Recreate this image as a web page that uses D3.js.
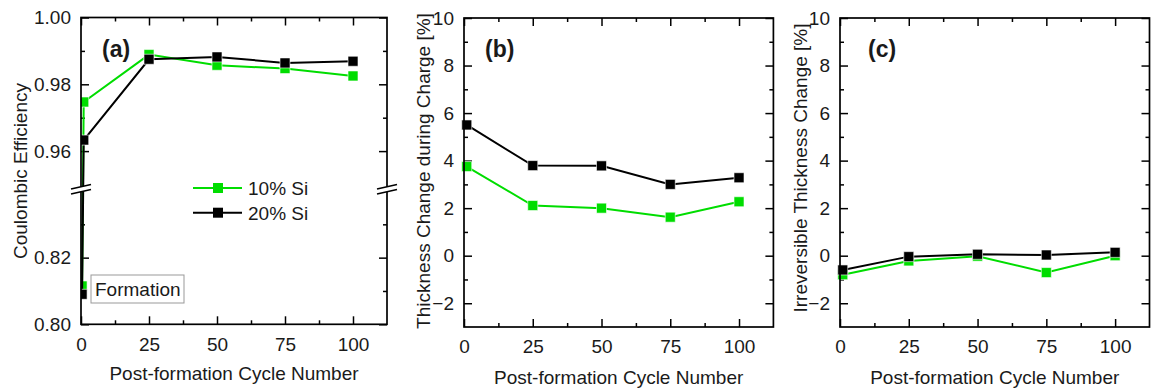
<!DOCTYPE html>
<html>
<head>
<meta charset="utf-8">
<script src="https://cdn.jsdelivr.net/npm/d3@7"></script>
<style>
  body { margin: 0; background: #fff; }
  svg { display: block; font-family: "Liberation Sans", Arial, sans-serif; }
</style>
</head>
<body>
<div id="chart"></div>
<script>
// ---- data ----
const cycles = [1, 25, 50, 75, 100];
const formationCycle = 0.4;
const seriesNames = ['10% Si', '20% Si'];
const seriesColors = ['#00dd00', '#000000'];

// (a) coulombic efficiency, formation point + post-formation cycles
const ceFormation = [0.8115, 0.809];
const ce10 = [0.9747, 0.9889, 0.9857, 0.9847, 0.9825];
const ce20 = [0.9633, 0.9875, 0.9882, 0.9864, 0.9869];

// (b) thickness change during charge [%]
const thick10 = [3.75, 2.11, 2.0, 1.62, 2.27];
const thick20 = [5.5, 3.79, 3.78, 3.0, 3.28];

// (c) irreversible thickness change [%]
const irr10 = [-0.8, -0.22, -0.02, -0.71, 0.0];
const irr20 = [-0.6, -0.04, 0.06, 0.03, 0.14];

// ticks
const xTicks = [0, 25, 50, 75, 100];
const xMinor = [12.5, 37.5, 62.5, 87.5];
const ceUpperTicks = [0.96, 0.98, 1.00];
const ceUpperMinor = [0.97, 0.99];
const ceLowerTicks = [0.80, 0.82];
const ceLowerMinor = [0.81, 0.83];
const pctTicks = [-2, 0, 2, 4, 6, 8, 10];
const pctMinor = [-1, 1, 3, 5, 7, 9];

// ---- canvas ----
const width = 1151;
const height = 392;
const fontSize = 19;
const textColor = '#1a1a1a';

const svg = d3.select('#chart').append('svg')
  .attr('width', width)
  .attr('height', height);

const noDomain = (g) => g.select('.domain').remove();

const styleAxis = (g) => {
  g.call(noDomain);
  g.selectAll('line').attr('stroke', '#000').attr('stroke-width', 1.5);
  g.selectAll('text').attr('font-size', fontSize).attr('fill', textColor)
    .attr('font-family', '"Liberation Sans", Arial, sans-serif');
};

const marker = d3.symbol().type(d3.symbolSquare).size(100);

// x axes (top + bottom, ticks inward)
function drawXAxes(g, x, top, bottom) {
  g.append('g').attr('transform', `translate(0, ${bottom})`)
    .call(d3.axisBottom(x).tickValues(xTicks).tickSizeInner(-8).tickSizeOuter(0)
      .tickPadding(13).tickFormat(d3.format('d')))
    .call(styleAxis);
  g.append('g').attr('transform', `translate(0, ${bottom})`)
    .call(d3.axisBottom(x).tickValues(xMinor).tickSizeInner(-4).tickSizeOuter(0).tickFormat(''))
    .call(styleAxis);
  g.append('g').attr('transform', `translate(0, ${top})`)
    .call(d3.axisTop(x).tickValues(xTicks).tickSizeInner(-8).tickSizeOuter(0).tickFormat(''))
    .call(styleAxis);
  g.append('g').attr('transform', `translate(0, ${top})`)
    .call(d3.axisTop(x).tickValues(xMinor).tickSizeInner(-4).tickSizeOuter(0).tickFormat(''))
    .call(styleAxis);
}

// y axes (left with labels, right without), ticks inward
function drawYAxes(g, y, left, right, ticks, minor, fmt) {
  g.append('g').attr('transform', `translate(${left}, 0)`)
    .call(d3.axisLeft(y).tickValues(ticks).tickSizeInner(-8).tickSizeOuter(0)
      .tickPadding(10).tickFormat(fmt))
    .call(styleAxis);
  g.append('g').attr('transform', `translate(${left}, 0)`)
    .call(d3.axisLeft(y).tickValues(minor).tickSizeInner(-4).tickSizeOuter(0).tickFormat(''))
    .call(styleAxis);
  g.append('g').attr('transform', `translate(${right}, 0)`)
    .call(d3.axisRight(y).tickValues(ticks).tickSizeInner(-8).tickSizeOuter(0).tickFormat(''))
    .call(styleAxis);
  g.append('g').attr('transform', `translate(${right}, 0)`)
    .call(d3.axisRight(y).tickValues(minor).tickSizeInner(-4).tickSizeOuter(0).tickFormat(''))
    .call(styleAxis);
}

function drawFrame(g, left, right, top, bottom) {
  g.append('rect')
    .attr('x', left).attr('y', top)
    .attr('width', right - left).attr('height', bottom - top)
    .attr('fill', 'none').attr('stroke', '#000').attr('stroke-width', 1.7);
}

function drawSeries(g, data, x, y, color) {
  const line = d3.line().x((d) => x(d.c)).y((d) => y(d.v));
  g.append('path').datum(data)
    .attr('d', line)
    .attr('fill', 'none')
    .attr('stroke', color)
    .attr('stroke-width', 2);
  g.selectAll(null).data(data).enter()
    .append('path')
    .attr('d', marker)
    .attr('transform', (d) => `translate(${x(d.c)}, ${y(d.v)})`)
    .attr('fill', color)
    .attr('stroke', '#fff')
    .attr('stroke-width', 0.6);
}

function yTitle(text, cx, cy) {
  svg.append('text')
    .attr('transform', `translate(${cx}, ${cy}) rotate(-90)`)
    .attr('text-anchor', 'middle')
    .attr('dy', '0.35em')
    .attr('font-size', fontSize)
    .attr('fill', textColor)
    .text(text);
}

function xTitle(cx, baseline) {
  svg.append('text')
    .attr('x', cx).attr('y', baseline)
    .attr('text-anchor', 'middle')
    .attr('font-size', fontSize)
    .attr('fill', textColor)
    .text('Post-formation Cycle Number');
}

function panelLabel(text, x0, baseline) {
  svg.append('text')
    .attr('x', x0).attr('y', baseline)
    .attr('font-size', 23)
    .attr('font-weight', 'bold')
    .attr('fill', textColor)
    .text(text);
}

const toPoints = (vals) => cycles.map((c, i) => ({ c, v: vals[i] }));

// ---- panel (a): broken y axis ----
{
  const left = 81; const right = 387; const top = 17.5; const bottom = 324.3;
  const x = d3.scaleLinear().domain([0, 112.5]).range([left, right]);
  const yUpper = d3.scaleLinear().domain([0.95, 1.00]).range([184.5, top]);
  const yLower = d3.scaleLinear().domain([0.80, 0.84]).range([bottom, 191]);
  const y = (v) => (v >= 0.9 ? yUpper(v) : yLower(v));
  const breakY = 188;

  const g = svg.append('g');
  svg.append('clipPath').attr('id', 'clipA')
    .append('rect').attr('x', left).attr('y', top)
    .attr('width', right - left).attr('height', bottom - top);

  drawXAxes(g, x, top, bottom);
  const fmt = d3.format('.2f');
  drawYAxes(g, yUpper, left, right, ceUpperTicks, ceUpperMinor, fmt);
  drawYAxes(g, yLower, left, right, ceLowerTicks, ceLowerMinor, fmt);

  const data = g.append('g').attr('clip-path', 'url(#clipA)');
  [ce10, ce20].forEach((vals, i) => {
    const pts = [{ c: formationCycle, v: ceFormation[i] }].concat(toPoints(vals));
    drawSeries(data, pts, x, y, seriesColors[i]);
  });
  drawFrame(g, left, right, top, bottom);

  // axis break marks
  [left, right].forEach((bx) => {
    g.append('path')
      .attr('d', `M${bx - 10},${breakY + 1} L${bx + 10},${breakY - 3.5} L${bx + 10},${breakY + 1.5} L${bx - 10},${breakY + 6} Z`)
      .attr('fill', '#fff');
    [0, 5].forEach((off) => {
      g.append('line')
        .attr('x1', bx - 10).attr('y1', breakY + 1 + off)
        .attr('x2', bx + 10).attr('y2', breakY - 3.5 + off)
        .attr('stroke', '#000').attr('stroke-width', 1.5);
    });
  });

  // legend
  const legendRows = [188, 212.7];
  seriesNames.forEach((name, i) => {
    const ly = legendRows[i];
    g.append('line')
      .attr('x1', 193).attr('x2', 242).attr('y1', ly).attr('y2', ly)
      .attr('stroke', seriesColors[i]).attr('stroke-width', 2);
    g.append('path').attr('d', marker)
      .attr('transform', `translate(218, ${ly})`)
      .attr('fill', seriesColors[i]);
    g.append('text')
      .attr('x', 248).attr('y', ly + 7)
      .attr('font-size', fontSize).attr('fill', textColor)
      .text(name);
  });

  // formation annotation
  g.append('rect')
    .attr('x', 91).attr('y', 275).attr('width', 93).attr('height', 28)
    .attr('fill', '#fff').attr('stroke', '#999').attr('stroke-width', 1);
  g.append('text')
    .attr('x', 95).attr('y', 296)
    .attr('font-size', fontSize).attr('fill', textColor)
    .text('Formation');

  panelLabel('(a)', 102, 57);
  yTitle('Coulombic Efficiency', 20, 171);
  xTitle((left + right) / 2, 380);
}

// ---- panels (b) and (c) ----
const pctPanels = [
  { left: 464, right: 773.4, label: '(b)', labelX: 485, title: 'Thickness Change during Charge [%]', titleX: 423, titleY: 171, s10: thick10, s20: thick20 },
  { left: 840, right: 1149.5, label: '(c)', labelX: 868, title: 'Irreversible Thickness Change [%]', titleX: 800, titleY: 168, s10: irr10, s20: irr20 },
];

pctPanels.forEach((p) => {
  const top = 18; const bottom = 327;
  const x = d3.scaleLinear().domain([0, 112.5]).range([p.left, p.right]);
  const y = d3.scaleLinear().domain([-3, 10]).range([bottom, top]);
  const g = svg.append('g');

  drawXAxes(g, x, top, bottom);
  drawYAxes(g, y, p.left, p.right, pctTicks, pctMinor, d3.format('d'));
  drawSeries(g, toPoints(p.s10), x, y, seriesColors[0]);
  drawSeries(g, toPoints(p.s20), x, y, seriesColors[1]);
  drawFrame(g, p.left, p.right, top, bottom);

  panelLabel(p.label, p.labelX, 57);
  yTitle(p.title, p.titleX, p.titleY);
  xTitle((p.left + p.right) / 2, 384);
});
</script>
</body>
</html>
